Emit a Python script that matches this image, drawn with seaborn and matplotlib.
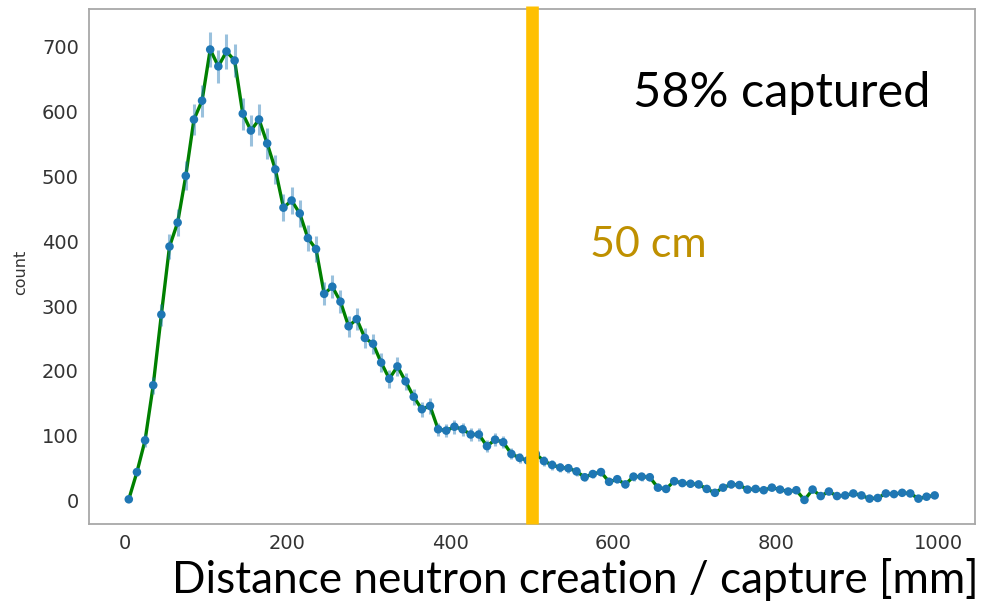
import numpy as np
import pandas as pd
import matplotlib
matplotlib.use("Agg")
import matplotlib.pyplot as plt
import seaborn as sns

# 10 mm bins of the neutron creation-to-capture distance
bin_centers = np.arange(5, 1000, 10)
counts = [
    2, 44, 93, 178, 287, 392, 429, 501, 588, 617,
    696, 670, 693, 679, 597, 571, 588, 551, 511, 452,
    463, 443, 405, 388, 319, 330, 307, 269, 280, 251,
    242, 213, 188, 207, 184, 160, 141, 146, 110, 108,
    114, 110, 102, 102, 84, 94, 90, 72, 66, 62,
    72, 61, 55, 51, 50, 45, 36, 41, 44, 29,
    33, 25, 37, 37, 36, 20, 18, 30, 27, 26,
    25, 18, 12, 20, 25, 24, 17, 18, 16, 20,
    17, 14, 16, 1, 17, 7, 14, 7, 8, 11,
    8, 3, 4, 11, 10, 12, 11, 3, 6, 8,
]
# Poisson uncertainty on each bin
count_errors = np.sqrt(np.array(counts, dtype=float))

xticks = [0, 200, 400, 600, 800, 1000]
yticks = [0, 100, 200, 300, 400, 500, 600, 700]
cut_distance_mm = 500
capture_text = "58% captured"
cut_text = "50 cm"
x_label = "Distance neutron creation / capture [mm]"
y_label = "count"

sns.set_style("white")
plt.rcParams["font.family"] = ["DejaVu Sans"]

W, H = 984, 601
fig = plt.figure(figsize=(W / 100, H / 100), dpi=100)
left, right, top, bottom = 88.5, 975, 9, 524
ax = fig.add_axes([left / W, 1 - bottom / H, (right - left) / W, (bottom - top) / H])

df = pd.DataFrame({"distance": bin_centers, "count": counts})

sns.lineplot(data=df, x="distance", y="count", color="green", linewidth=2.4,
             ax=ax, zorder=2)
ax.errorbar(bin_centers, counts, yerr=count_errors, fmt="none",
            ecolor="#1f77b4", alpha=0.45, elinewidth=2.2, capsize=0, zorder=3)
sns.scatterplot(data=df, x="distance", y="count", color="#1f77b4", s=38,
                edgecolor="none", linewidth=0, ax=ax, zorder=4)

ax.set_xticks(xticks)
ax.set_yticks(yticks)
ax.tick_params(axis="both", length=3, width=1, color="#9a9a9a",
               labelsize=14, labelcolor="#333333", pad=4)
for s in ax.spines.values():
    s.set_color("#a8a8a8")
    s.set_linewidth(1.3)

ax.set_xlabel("")
ax.set_ylabel(y_label, fontsize=11.5, color="#333333")
ax.yaxis.set_label_coords((28 - left) / (right - left), (bottom - 272) / (bottom - top))

# 50 cm marker
ax.axvline(cut_distance_mm, ymin=0, ymax=(bottom - 6) / (bottom - top),
           color="#FFC000", linewidth=9.1, solid_capstyle="butt",
           clip_on=False, zorder=5)

fig.text(633 / W, 1 - 107 / H, capture_text, fontsize=35, family="Lato",
         color="black", ha="left", va="baseline")
fig.text(590 / W, 1 - 257 / H, cut_text, fontsize=31, family="Lato",
         color="#BF9000", ha="left", va="baseline")
fig.text(172 / W, 1 - 593 / H, x_label, fontsize=31.8, family="Lato",
         color="black", ha="left", va="baseline")

fig.savefig("out.png", dpi=100, facecolor="white")
